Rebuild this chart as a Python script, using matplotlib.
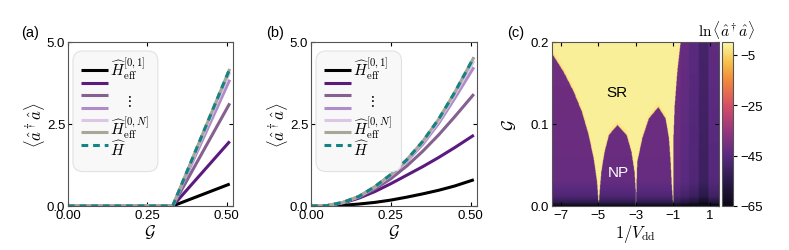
import numpy as np
import matplotlib
matplotlib.use("Agg")
import matplotlib.pyplot as plt
from matplotlib.colors import LinearSegmentedColormap
from matplotlib.patches import FancyBboxPatch

plt.rcParams['font.family'] = ['Liberation Sans', 'DejaVu Sans']
plt.rcParams['mathtext.fontset'] = 'cm'
plt.rcParams['font.size'] = 9

#%% DATA
# (a) photon number, zero below the transition then rising linearly
g_a = [0.0, 0.33, 0.51]
a_eff01 = [0.0, 0.0, 0.67]
a_eff02 = [0.0, 0.0, 1.97]
a_eff03 = [0.0, 0.0, 3.13]
a_eff04 = [0.0, 0.0, 3.85]
a_eff05 = [0.0, 0.0, 4.08]
a_eff0N = [0.0, 0.0, 4.18]
a_exact = [0.0, 0.0, 4.18]

# (b) photon number, smooth crossover
g_b = [0.0, 0.05, 0.10, 0.15, 0.20, 0.25, 0.30, 0.35, 0.40, 0.45, 0.51]
b_eff01 = [0.0, 0.00, 0.02, 0.06, 0.11, 0.18, 0.27, 0.37, 0.48, 0.61, 0.80]
b_eff02 = [0.0, 0.01, 0.09, 0.24, 0.44, 0.68, 0.94, 1.20, 1.48, 1.78, 2.16]
b_eff03 = [0.0, 0.01, 0.10, 0.27, 0.52, 0.83, 1.22, 1.67, 2.17, 2.72, 3.41]
b_eff04 = [0.0, 0.01, 0.11, 0.29, 0.57, 0.93, 1.36, 1.88, 2.52, 3.28, 4.23]
b_eff05 = [0.0, 0.01, 0.11, 0.29, 0.58, 0.95, 1.39, 1.94, 2.60, 3.40, 4.42]
b_eff0N = [0.0, 0.01, 0.11, 0.29, 0.59, 0.96, 1.41, 1.97, 2.65, 3.46, 4.53]
b_exact = [0.0, 0.01, 0.11, 0.29, 0.59, 0.96, 1.41, 1.97, 2.65, 3.46, 4.53]

line_colors = ['#000000', '#5b1a7e', '#86608f', '#b08bcc', '#dcc6e6', '#a8a697']
exact_color = '#138484'
# legend rows that carry a label: (row, text, small vertical nudge)
legend_text = [(0, r'$\widehat{H}_{\rm eff}^{[0,1]}$', 0.01),
               (5, r'$\widehat{H}_{\rm eff}^{[0,N]}$', 0.03),
               (6, r'$\widehat{H}$', -0.02)]

# (c) SR/NP boundary (1/V_dd, G)
bound_x = [-7.5, -6.89, -6.35, -5.9, -5.54, -5.27, -5.09, -5.0,
           -4.95, -4.86, -4.69, -4.45, -4.0, -3.5, -3.24, -3.08, -3.01, -3.0,
           -2.97, -2.93, -2.66, -2.31, -1.80, -1.41, -1.23, -1.14, -1.08, -1.0,
           -0.99, -0.92, -0.78, -0.6, -0.59, 1.5]
bound_g = [0.185, 0.163, 0.139, 0.114, 0.086, 0.057, 0.029, 0.0,
           0.017, 0.041, 0.065, 0.086, 0.098, 0.086, 0.065, 0.041, 0.017, 0.0,
           0.025, 0.053, 0.082, 0.106, 0.120, 0.106, 0.082, 0.053, 0.025, 0.0,
           0.080, 0.122, 0.163, 0.2, 1.0, 1.0]
# NP background level vs G, and darker blocks at positive 1/V_dd
np_g = [0.0, 0.004, 0.012, 0.03, 0.2]
np_v = [-64, -54, -47, -43, -41]
block_edges = [-0.6, -0.15, 0.37, 0.9]
block_shift = [0, -2, -4, -8, -3]

#%% FIGURE
fig = plt.figure(figsize=(7.89, 2.51), dpi=100)
ax_a = fig.add_axes([0.0862, 0.1753, 0.209, 0.6534])
ax_b = fig.add_axes([0.3942, 0.1753, 0.2104, 0.6534])
ax_c = fig.add_axes([0.6996, 0.1753, 0.2117, 0.6534])
cax = fig.add_axes([0.9151, 0.1753, 0.0139, 0.6534])

dash = (0, (2.2, 1.6))

def draw_key(ax):
    # rounded key box in axes coordinates
    box = FancyBboxPatch((0.03, 0.21), 0.515, 0.735, transform=ax.transAxes,
                         boxstyle='round,pad=0,rounding_size=0.06',
                         facecolor='#f8f8f8', edgecolor='#e2e2e2', lw=0.8, zorder=5)
    ax.add_patch(box)
    rows = [0.829, 0.752, 0.676, 0.600, 0.526, 0.450, 0.374]
    styles = [(c, '-') for c in line_colors] + [(exact_color, dash)]
    for yr, (c, ls) in zip(rows, styles):
        ax.plot([0.079, 0.242], [yr, yr], transform=ax.transAxes, color=c, lw=2.2,
                ls=ls, solid_capstyle='butt', clip_on=False, zorder=6)
    for row, txt, dy in legend_text:
        ax.text(0.255, rows[row] + dy, txt, transform=ax.transAxes, fontsize=11,
                ha='left', va='center', zorder=7)
    ax.text(0.364, 0.640, r'$\vdots$', transform=ax.transAxes, fontsize=11,
            ha='center', va='center', zorder=7)

def line_panel(ax, g, curves, exact):
    for y, c in zip(curves, line_colors):
        ax.plot(g, y, color=c, lw=2.2, solid_capstyle='butt')
    ax.plot(g, exact, color=exact_color, lw=2.2, ls=dash)
    ax.set_xlim(0, 0.52)
    ax.set_ylim(0, 5)
    ax.set_xticks([0, 0.25, 0.5])
    ax.set_xticklabels(['0.00', '0.25', '0.50'])
    ax.set_yticks([0, 2.5, 5])
    ax.set_yticklabels(['0.0', '2.5', '5.0'])
    ax.tick_params(direction='in', top=True, right=True, length=3, labelsize=9.5, pad=2)
    ax.set_xlabel(r'$\mathcal{G}$', fontsize=12, labelpad=1)
    ax.set_ylabel(r'$\langle\hat{a}^\dagger\hat{a}\rangle$', fontsize=12, labelpad=0)
    for s in ax.spines.values():
        s.set_color('#555555')
    draw_key(ax)

line_panel(ax_a, g_a, [a_eff01, a_eff02, a_eff03, a_eff04, a_eff05, a_eff0N], a_exact)
line_panel(ax_b, g_b, [b_eff01, b_eff02, b_eff03, b_eff04, b_eff05, b_eff0N], b_exact)

# phase map
xg = np.linspace(-7.5, 1.5, 451)
gg = np.linspace(0, 0.2, 201)
gc = np.interp(xg, bound_x, bound_g)
X, G = np.meshgrid(xg, gg)
GC = gc[None, :]
shift = np.array(block_shift)[np.digitize(xg, block_edges)]
np_field = np.interp(gg, np_g, np_v)[:, None] + shift[None, :]
field = np.where(G > GC, -1.5 - 4 * np.exp(-(G - GC) / 0.0025), np_field)

cmap = LinearSegmentedColormap.from_list('map', [
    (0.0, '#0d0816'), (0.154, '#2a1a4a'), (0.308, '#5a2a80'), (0.46, '#98367f'),
    (0.615, '#d64f66'), (0.77, '#f28a3a'), (0.877, '#f7c04a'), (1.0, '#fbf9a8')])
im = ax_c.imshow(field, extent=[-7.5, 1.5, 0, 0.2], origin='lower', aspect='auto',
                 cmap=cmap, vmin=-65, vmax=0)
ax_c.set_xticks([-7, -5, -3, -1, 1])
ax_c.set_yticks([0, 0.1, 0.2])
ax_c.set_yticklabels(['0.0', '0.1', '0.2'])
ax_c.tick_params(direction='in', top=True, right=True, length=3, labelsize=9.5, pad=2)
ax_c.set_xlabel(r'$1/V_{\rm dd}$', fontsize=12, labelpad=1)
ax_c.set_ylabel(r'$\mathcal{G}$', fontsize=12, labelpad=9)
for s in ax_c.spines.values():
    s.set_color('#555555')
ax_c.text(-4.0, 0.139, 'SR', fontsize=11, ha='center', va='center', color='black')
ax_c.text(-3.92, 0.041, 'NP', fontsize=11, ha='center', va='center', color='white')

cb = fig.colorbar(im, cax=cax)
cb.set_ticks([-5, -25, -45, -65])
cb.ax.tick_params(labelsize=9.5, length=3, pad=2)
cb.outline.set_edgecolor('#555555')
fig.text(0.921, 0.88, r'$\ln\langle\hat{a}^\dagger\hat{a}\rangle$', fontsize=11, ha='center', va='center')

fig.text(0.027, 0.868, '(a)', fontsize=10.5, va='center')
fig.text(0.337, 0.868, '(b)', fontsize=10.5, va='center')
fig.text(0.643, 0.868, '(c)', fontsize=10.5, va='center')

fig.savefig('out.png', dpi=100)
